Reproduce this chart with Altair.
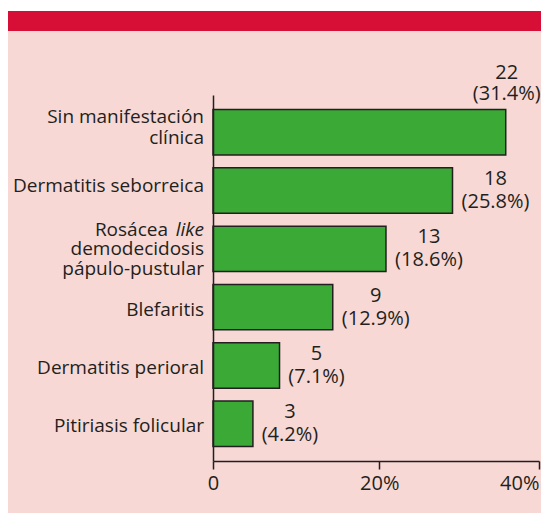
import altair as alt
import pandas as pd

# ---- data ----
categories = [
    "Sin manifestación clínica",
    "Dermatitis seborreica",
    "Rosácea like demodecidosis pápulo-pustular",
    "Blefaritis",
    "Dermatitis perioral",
    "Pitiriasis folicular",
]
label_text = [
    "Sin manifestación\nclínica",
    "Dermatitis seborreica",
    "demodecidosis\npápulo-pustular",
    "Blefaritis",
    "Dermatitis perioral",
    "Pitiriasis folicular",
]
counts = [22, 18, 13, 9, 5, 3]
percents = [31.4, 25.8, 18.6, 12.9, 7.1, 4.2]
tick_values = [0, 12.5, 24.5]
tick_labels = ["0", "20%", "40%"]

FONT = "Open Sans"
FS = 20      # value / tick labels
FSY = 19     # category labels
TXT = "#231f20"
PINK = "#F7D8D4"
RED = "#D70F37"
GREEN = "#3BA935"

df = pd.DataFrame({
    "cat": categories,
    "label": label_text,
    "count": counts,
    "pct": percents,
})
df["value_text"] = [f"{c}\n({p}%)" for c, p in zip(counts, percents)]
df["row"] = range(len(df))

W, H = 326, 366

y_enc = alt.Y("cat:N", sort=categories,
              scale=alt.Scale(paddingInner=0.22, paddingOuter=0.25),
              axis=alt.Axis(labels=False, ticks=False, title=None, zindex=1,
                            domainColor=TXT, domainWidth=1.5))
y_plain = alt.Y("cat:N", sort=categories)

label_expr = " : ".join(
    f"datum.value == {v} ? '{l}'" for v, l in zip(tick_values[:-1], tick_labels[:-1])
) + f" : '{tick_labels[-1]}'"

x_enc = alt.X("count:Q",
              scale=alt.Scale(domain=[0, tick_values[-1]], nice=False),
              axis=alt.Axis(values=tick_values, labelExpr=label_expr, title=None,
                            grid=False, tickSize=8, tickWidth=1.5, domainWidth=1.5,
                            domainColor=TXT, tickColor=TXT, labelColor=TXT, zindex=1,
                            labelFont=FONT, labelFontSize=FS, labelPadding=20,
                            labelBaseline="alphabetic", labelBound=False,
                            labelAlign={"condition": {"test": "datum.value > 20", "value": "right"},
                                        "value": "center"}))

base = alt.Chart(df)

# decorative background panels
bg = pd.DataFrame({"k": [0]})
pink = alt.Chart(bg).mark_rect(color=PINK).encode(
    x=alt.value(-205), x2=alt.value(W + 20), y=alt.value(-64), y2=alt.value(H + 60))
red = alt.Chart(bg).mark_rect(color=RED).encode(
    x=alt.value(-205), x2=alt.value(W + 20), y=alt.value(-84), y2=alt.value(-64))

bars = base.mark_bar(color=GREEN, stroke=TXT, strokeWidth=1.5).encode(x=x_enc, y=y_enc)


def ylab(rows, dy, lh=20.7):
    return base.transform_filter(
        alt.FieldOneOfPredicate(field="row", oneOf=rows)
    ).mark_text(align="right", baseline="alphabetic", font=FONT, fontSize=FSY,
                color=TXT, lineBreak="\n", lineHeight=lh, dy=dy).encode(
        y=y_plain, x=alt.value(-9), text="label:N")


lab_a = ylab([0], -9)
lab_b = ylab([1], 1)
lab_c = ylab([2], 6.5, lh=19.5)
lab_d = ylab([3, 4, 5], 8.5)

ros = base.transform_filter(alt.datum.row == 2)
ros_word = ros.mark_text(align="right", baseline="alphabetic", font=FONT, fontSize=FSY,
                         color=TXT, dy=-13).encode(
    y=y_plain, x=alt.value(-45), text=alt.value("Rosácea"))
like_word = ros.mark_text(align="right", baseline="alphabetic", font=FONT, fontSize=FSY,
                          fontStyle="italic", color=TXT, dy=-13).encode(
    y=y_plain, x=alt.value(-9), text=alt.value("like"))


def vals(pred, dx, dy, lh):
    return base.transform_filter(pred).mark_text(
        align="center", baseline="alphabetic", font=FONT, fontSize=FS, color=TXT,
        lineBreak="\n", lineHeight=lh, dx=dx, dy=dy).encode(
        x="count:Q", y=y_plain, text="value_text:N")


vals_wide = vals((alt.datum.count < 20) & (alt.datum.pct >= 10), 43, -5.5, 23)
vals_narrow = vals(alt.datum.pct < 10, 37, -5.5, 23)
vals_top = vals(alt.datum.count >= 20, 1, -53.4, 21)

chart = alt.layer(pink, red, bars, lab_a, lab_b, lab_c, lab_d, ros_word, like_word,
                  vals_wide, vals_narrow, vals_top).properties(
    width=W, height=H,
    padding={"left": 205, "top": 87, "right": 2, "bottom": 52},
    autosize=alt.AutoSizeParams(type="none"),
    background="white",
).configure_view(stroke=None)

chart.save("out.html", embed_options={"renderer": "svg", "actions": False})
